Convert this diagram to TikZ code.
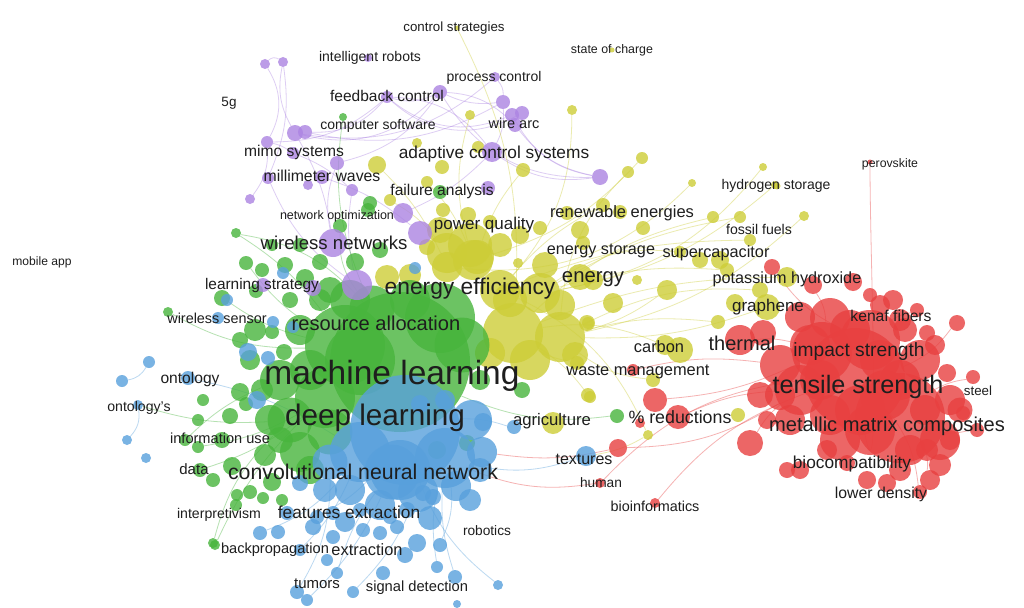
\documentclass[tikz,border=0pt]{standalone}
\usepackage{fontspec}
\setmainfont{Liberation Sans}
\usetikzlibrary{backgrounds}

\definecolor{gnc}{RGB}{72,181,61}
\definecolor{blc}{RGB}{88,160,220}
\definecolor{rdc}{RGB}{232,64,64}
\definecolor{yec}{RGB}{205,205,55}
\definecolor{puc}{RGB}{172,132,226}
\definecolor{txt}{RGB}{30,30,30}

\tikzset{
  bub/.style={circle, inner sep=0pt, fill opacity=0.8, minimum size=#1},
  gn/.style={bub=#1, fill=gnc},
  bl/.style={bub=#1, fill=blc},
  rd/.style={bub=#1, fill=rdc},
  ye/.style={bub=#1, fill=yec},
  pu/.style={bub=#1, fill=puc},
  lk/.style={draw=#1, line width=0.8pt, draw opacity=0.4},
  lbl/.style={font=\fontsize{#1}{#1}\selectfont, text=txt, inner sep=0pt}
}

\begin{document}
\begin{tikzpicture}[x=1pt, y=-1pt]
  \useasboundingbox (0,0) rectangle (1024,607);

  % clusters
  \foreach \x/\y/\d [count=\i] in {513/333/60, 560/337/50, 473/260/40, 447/253/40, 500/290/40, 540/293/40, 490/353/30, 477/257/34, 447/267/30, 580/277/26,
      593/280/20, 387/277/24, 613/303/20, 587/323/16, 590/397/12, 583/243/14, 523/170/14, 442/167/14, 427/182/12, 642/158/12,
      628/172/12, 692/183/8, 763/167/8, 775/185/8, 713/217/12, 740/217/12, 750/240/12, 643/228/14, 580/230/18, 540/228/14,
      603/205/14, 620/212/14, 567/213/14, 390/200/12, 443/210/14, 468/215/16, 490/222/14, 518/263/10, 667/290/20, 637/280/10,
      680/252/12, 727/270/14, 700/260/16, 427/247/16, 767/307/26, 718/322/14, 760/290/16, 787/277/20, 735/303/18, 804/216/10,
      680/350/26, 665/345/20, 588/395/14, 553/423/22, 648/435/10, 738/415/14, 653/380/14, 577/363/14, 588/323/12, 457/28/5,
      612/50/5, 777/186/7, 572/110/10, 470/115/10, 417/143/10, 377/165/18, 478/147/12, 720/260/18, 530/360/40, 470/245/44,
      510/300/34, 560/305/30, 440/230/26, 545/265/26, 500/245/24, 410/275/22, 575/355/26, 520/235/18}
    \node[ye=\d] (y\i) at (\x,\y) {};

  \foreach \x/\y/\d [count=\i] in {400/362/140, 345/345/80, 440/318/70, 325/398/60, 290/420/45, 300/452/40, 330/432/45, 280/380/40, 462/345/55, 372/308/45,
      255/330/22, 250/360/20, 240/392/18, 230/416/16, 222/440/16, 232/466/18, 200/470/14, 265/455/22, 272/482/18, 250/492/14,
      215/545/10, 236/505/12, 198/420/12, 203/400/12, 222/298/16, 256/291/14, 262/270/14, 246/263/14, 236/233/10, 285/265/16,
      305/278/18, 290/300/16, 320/300/22, 320/262/16, 300/245/14, 272/245/12, 340/226/14, 368/210/14, 380/250/16, 355/262/18,
      168/312/10, 284/352/16, 272/332/14, 246/404/14, 185/440/12, 343/117/8, 440/192/14, 370/203/14, 617/416/14, 522/390/16,
      213/543/10, 237/495/12, 263/498/12, 282/500/12, 213/480/14, 198/447/12, 480/380/20, 467/443/16, 437/450/18, 360/360/70,
      310/370/40, 300/330/30, 350/300/40, 410/300/40, 330/290/26, 270/420/30, 310/470/28, 280/440/26, 262/390/22, 240/340/16}
    \node[gn=\d] (g\i) at (\x,\y) {};

  \foreach \x/\y/\d [count=\i] in {405/430/110, 360/452/60, 445/458/60, 472/420/40, 392/472/55, 330/462/35, 482/452/30, 418/492/40, 350/490/30, 456/486/30,
      445/400/20, 420/404/18, 283/273/12, 227/300/12, 218/318/12, 273/322/12, 293/327/12, 248/352/18, 268/358/14, 149/362/12,
      122/381/12, 188/378/14, 415/268/12, 127/440/10, 146/458/10, 483/422/18, 514/427/14, 586/456/20, 260/533/14, 278/532/14,
      313/527/16, 333/537/14, 363/530/14, 380/533/14, 397/527/14, 417/543/18, 440/545/14, 433/497/16, 423/493/16, 437/567/12,
      455/577/14, 498/585/10, 383/573/14, 353/592/12, 307/600/12, 297/592/14, 337/573/12, 327/560/12, 300/550/12, 407/510/16,
      390/517/14, 360/510/14, 333/513/14, 317/517/14, 287/513/14, 300/483/16, 138/405/10, 257/400/18, 457/604/8, 380/505/30,
      430/518/24, 345/522/20, 400/470/60, 470/500/22, 325/490/24, 405/555/16, 480/470/24}
    \node[bl=\d] (b\i) at (\x,\y) {};

  \foreach \x/\y/\d [count=\i] in {855/378/100, 822/352/60, 900/418/90, 870/340/60, 800/390/50, 780/365/40, 940/440/40, 960/410/25, 920/360/40, 830/415/40,
      790/420/30, 740/340/30, 763/333/26, 800/317/30, 830/318/40, 870/295/14, 853/282/18, 813/285/18, 957/323/16, 917/310/14,
      927/333/16, 947/373/18, 973/377/14, 963/413/14, 977/430/14, 950/440/20, 927/450/22, 930/480/20, 920/492/14, 900/470/22,
      887/483/18, 867/480/18, 847/463/16, 827/450/20, 800/470/18, 787/470/16, 750/443/26, 767/420/18, 772/267/16, 655/400/24,
      678/417/24, 640/423/10, 633/370/12, 618/448/18, 600/483/10, 655/503/10, 870/162/5, 885/395/50, 870/430/50, 810/345/40,
      900/380/40, 840/440/40, 880/360/40, 950/400/30, 780/395/30, 760/395/26, 925/410/30, 820/380/40, 860/410/50, 905/330/24,
      935/345/20, 893/300/20, 850/330/40, 880/305/20, 900/320/22, 910/450/30, 940/465/22}
    \node[rd=\d] (r\i) at (\x,\y) {};

  \foreach \x/\y/\d [count=\i] in {265/64/10, 283/62/10, 267/142/12, 295/133/16, 305/132/14, 293/153/12, 337/163/14, 322/177/14, 268/178/12, 308/185/10,
      250/199/10, 352/190/12, 387/97/12, 440/92/14, 495/77/10, 503/102/14, 512/115/14, 522/113/14, 515/125/14, 492/152/20,
      600/177/16, 488/188/14, 368/58/8, 403/213/20, 420/233/24, 333/243/28, 357/285/30, 263/285/14, 313/288/16}
    \node[pu=\d] (p\i) at (\x,\y) {};

  % links
  \begin{pgfonlayer}{background}
    \fill[white] (0,0) rectangle (1024,607);
    \foreach \a/\b/\c in {1/3/30, 2/4/-20, 1/2/40, 3/6/10, 13/14/-20, 14/16/-15, 15/16/20, 14/21/-30, 13/20/25, 16/20/15, 20/21/-20,
        3/11/20, 26/7/15, 12/27/-10, 20/24/10, 17/21/-25, 4/26/10, 9/27/-15, 14/19/20, 5/13/-25, 13/17/-30, 7/14/-20, 6/12/10,
        4/15/-25, 5/16/-20, 3/13/-20, 13/18/-35, 8/25/10, 2/9/15, 19/21/-20, 4/14/-30}
      \draw[lk=puc] (p\a) to[bend left=\c] (p\b);
    \foreach \a/\b/\c in {3/20/-15, 1/25/15, 5/27/10, 2/45/-10, 1/48/10, 6/23/-20, 9/22/-25, 8/17/10, 2/50/-15, 6/26/10, 3/19/-10,
        5/55/20, 1/15/10, 2/57/-15, 6/42/10, 4/34/-10, 3/64/15, 5/63/-20, 2/46/10, 1/60/-15, 9/66/-10, 6/41/20, 2/39/-10, 1/52/15,
        6/24/-15, 2/21/20, 5/31/10, 1/58/-10, 2/47/15}
      \draw[lk=yec] (y\a) to[bend left=\c] (y\b);
    \foreach \a/\b/\c in {4/39/15, 5/41/-10, 3/28/10, 2/12/-10, 1/19/-15, 3/23/10, 1/45/-20, 5/44/15, 6/43/-10, 1/46/-15, 2/40/10,
        4/20/10, 3/25/-10, 1/29/15, 5/37/-10, 2/18/-15}
      \draw[lk=rdc] (r\a) to[bend left=\c] (r\b);
    \draw[lk=rdc] (r1) to[out=-80, in=-90] (r47);
    \foreach \a/\b/\c in {2/41/15, 1/29/-20, 4/17/10, 5/51/-15, 2/25/10, 8/45/-10, 10/37/20, 4/56/10, 1/49/-15, 2/29/-10, 2/28/10,
        4/21/-10, 10/46/15}
      \draw[lk=gnc] (g\a) to[bend left=\c] (g\b);
    \foreach \a/\b/\c in {1/42/-15, 5/45/10, 2/29/15, 3/41/-10, 8/44/10, 3/28/-15, 2/22/-10, 20/21/25, 24/57/-25, 1/27/10, 6/46/15,
        3/40/-10, 1/54/10, 5/47/-10, 3/37/15, 2/49/10}
      \draw[lk=blc] (b\a) to[bend left=\c] (b\b);
    \draw[lk=rdc] (b7) to[bend right=10] (r44);
    \draw[lk=rdc] (b3) to[bend right=15] (r45);
    \draw[lk=gnc] (g5) to[bend left=10] (b57);
    \draw[lk=yec] (y55) to[bend left=10] (b28);
  \end{pgfonlayer}

  % labels
  \node[lbl=13.3] (t1) at (454,28) {control strategies};
  \node[lbl=12.4] (t2) at (612,50) {state of charge};
  \node[lbl=14] (t3) at (370,58) {intelligent robots};
  \node[lbl=14] (t4) at (494,78) {process control};
  \node[lbl=13.5] (t5) at (229,103) {5g};
  \node[lbl=15.5] (t6) at (387,96) {feedback control};
  \node[lbl=14] (t7) at (378,126) {computer software};
  \node[lbl=14.5] (t8) at (514,123) {wire arc};
  \node[lbl=15.6] (t9) at (294,152) {mimo systems};
  \node[lbl=17.3] (t10) at (494,154) {adaptive control systems};
  \node[lbl=15.8] (t11) at (322,176) {millimeter waves};
  \node[lbl=15.6] (t12) at (442,191) {failure analysis};
  \node[lbl=14] (t13) at (776,186) {hydrogen storage};
  \node[lbl=12.3] (t14) at (890,164) {perovskite};
  \node[lbl=16.5] (t15) at (622,213) {renewable energies};
  \node[lbl=12.5] (t16) at (337,216) {network optimization};
  \node[lbl=17] (t17) at (484,225) {power quality};
  \node[lbl=14.1] (t18) at (759,229) {fossil fuels};
  \node[lbl=18.6] (t19) at (334,243) {wireless networks};
  \node[lbl=16.2] (t20) at (601,251) {energy storage};
  \node[lbl=16.3] (t21) at (716,253) {supercapacitor};
  \node[lbl=12.1] (t22) at (42,262) {mobile app};
  \node[lbl=20.3] (t23) at (593,279) {energy};
  \node[lbl=16.2] (t24) at (787,279) {potassium hydroxide};
  \node[lbl=15.4] (t25) at (262,286) {learning strategy};
  \node[lbl=22.8] (t26) at (470,289) {energy efficiency};
  \node[lbl=17] (t27) at (768,307) {graphene};
  \node[lbl=14.4] (t28) at (217,318) {wireless sensor};
  \node[lbl=20.1] (t29) at (376,323) {resource allocation};
  \node[lbl=15.7] (t30) at (891,316) {kenaf fibers};
  \node[lbl=16.4] (t31) at (659,347) {carbon};
  \node[lbl=20] (t32) at (742,343) {thermal};
  \node[lbl=19.2] (t33) at (859,352) {impact strength};
  \node[lbl=15.6] (t34) at (190,379) {ontology};
  \node[lbl=33.5] (t35) at (392,376) {machine learning};
  \node[lbl=16.4] (t36) at (638,372) {waste management};
  \node[lbl=25.2] (t37) at (858,387) {tensile strength};
  \node[lbl=13.3] (t38) at (978,391) {steel};
  \node[lbl=14.1] (t39) at (139,408) {ontology's};
  \node[lbl=29.7] (t40) at (375,418) {deep learning};
  \node[lbl=16.7] (t41) at (552,421) {agriculture};
  \node[lbl=17.8] (t42) at (680,417) {\% reductions};
  \node[lbl=20.1] (t43) at (887,426) {metallic matrix composites};
  \node[lbl=14.6] (t44) at (220,438) {information use};
  \node[lbl=16] (t45) at (584,459) {textures};
  \node[lbl=15] (t46) at (194,469) {data};
  \node[lbl=21.3] (t47) at (363,472) {convolutional neural network};
  \node[lbl=17.3] (t48) at (852,464) {biocompatibility};
  \node[lbl=13.7] (t49) at (601,483) {human};
  \node[lbl=15.8] (t50) at (881,494) {lower density};
  \node[lbl=14.4] (t51) at (655,506) {bioinformatics};
  \node[lbl=14.1] (t52) at (219,515) {interpretivism};
  \node[lbl=17.3] (t53) at (349,512) {features extraction};
  \node[lbl=13.7] (t54) at (487,531) {robotics};
  \node[lbl=14.6] (t55) at (275,550) {backpropagation};
  \node[lbl=16.4] (t56) at (367,550) {extraction};
  \node[lbl=15] (t57) at (317,584) {tumors};
  \node[lbl=14.7] (t58) at (417,588) {signal detection};
\end{tikzpicture}
\end{document}
